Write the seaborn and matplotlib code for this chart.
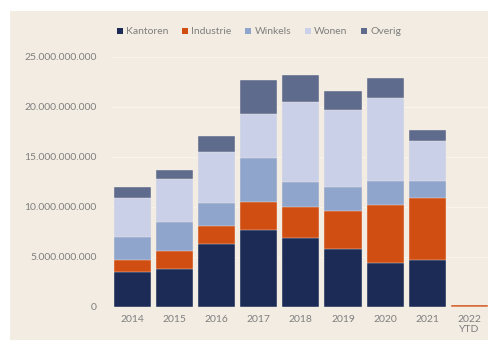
import matplotlib
matplotlib.use("Agg")
import matplotlib.pyplot as plt
import matplotlib.patches as mpatches
import numpy as np
import pandas as pd
import seaborn as sns

years = ["2014", "2015", "2016", "2017", "2018", "2019", "2020", "2021", "2022\nYTD"]
kantoren  = [3.50, 3.73, 6.24, 7.67, 6.90, 5.74, 4.34, 4.67, 0.02]
industrie = [1.17, 1.87, 1.86, 2.77, 3.10, 3.86, 5.83, 6.17, 0.20]
winkels   = [2.33, 2.84, 2.24, 4.46, 2.44, 2.34, 2.43, 1.76, 0.0]
wonen     = [3.84, 4.30, 5.16, 4.44, 8.06, 7.73, 8.30, 4.00, 0.0]
overig    = [1.10, 0.93, 1.57, 3.40, 2.67, 1.90, 2.04, 1.07, 0.0]
series_names = ["Kantoren", "Industrie", "Winkels", "Wonen", "Overig"]
colors = ["#1b2b55", "#d04e12", "#8fa5cc", "#c9d0e8", "#5f6b8c"]
yticks = [0, 5e9, 10e9, 15e9, 20e9, 25e9]
ytick_labels = ["0", "5.000.000.000", "10.000.000.000", "15.000.000.000",
                "20.000.000.000", "25.000.000.000"]

bg = "#f3ece2"
sns.set_theme(style="white")
plt.rcParams["font.family"] = ["Lato", "DejaVu Sans"]

fig = plt.figure(figsize=(4.89, 3.40), dpi=100, facecolor="white")
# beige panel
panel = mpatches.Rectangle((10 / 489, 0), 1, 1 - 11 / 340,
                           transform=fig.transFigure,
                           facecolor=bg, edgecolor="none", zorder=-5)
fig.patches.append(panel)
ax = fig.add_axes([112 / 489, 1 - 306.7 / 340, (489 - 112) / 489, (306.7 - 57) / 340])
ax.set_facecolor(bg)

data = pd.DataFrame({"year": years, "Kantoren": kantoren, "Industrie": industrie,
                     "Winkels": winkels, "Wonen": wonen, "Overig": overig})
cum = data[series_names].cumsum(axis=1) * 1e9

for name, col in reversed(list(zip(series_names, colors))):
    sns.barplot(x=data["year"], y=cum[name], color=col, width=0.88,
                edgecolor=bg, linewidth=0.3, ax=ax, zorder=3, saturation=1)

ax.set_ylim(0, 25e9)
ax.set_xlim(-0.49, 8.47)
ax.set_yticks(yticks)
ax.set_yticklabels(ytick_labels)
ax.grid(axis="y", color="#f8f4ee", linewidth=0.8, zorder=0)
ax.set_axisbelow(True)
for s in ax.spines.values():
    s.set_visible(False)
ax.tick_params(axis="both", length=0, labelsize=7.5, colors="#7f7f7f")
ax.tick_params(axis="y", pad=11)
ax.tick_params(axis="x", pad=6)
ax.set_xlabel("")
ax.set_ylabel("")

handles = [mpatches.Patch(facecolor=c, edgecolor="none", label=n)
           for n, c in zip(series_names, colors)]
fig.legend(handles=handles, loc="center", bbox_to_anchor=(259 / 489, 1 - 32 / 340),
           ncol=5, frameon=False, fontsize=7.5, handlelength=0.6, handleheight=0.6,
           handletextpad=0.3, columnspacing=1.3, labelcolor="#7f7f7f")

fig.savefig("out.png", dpi=100, facecolor="white")
